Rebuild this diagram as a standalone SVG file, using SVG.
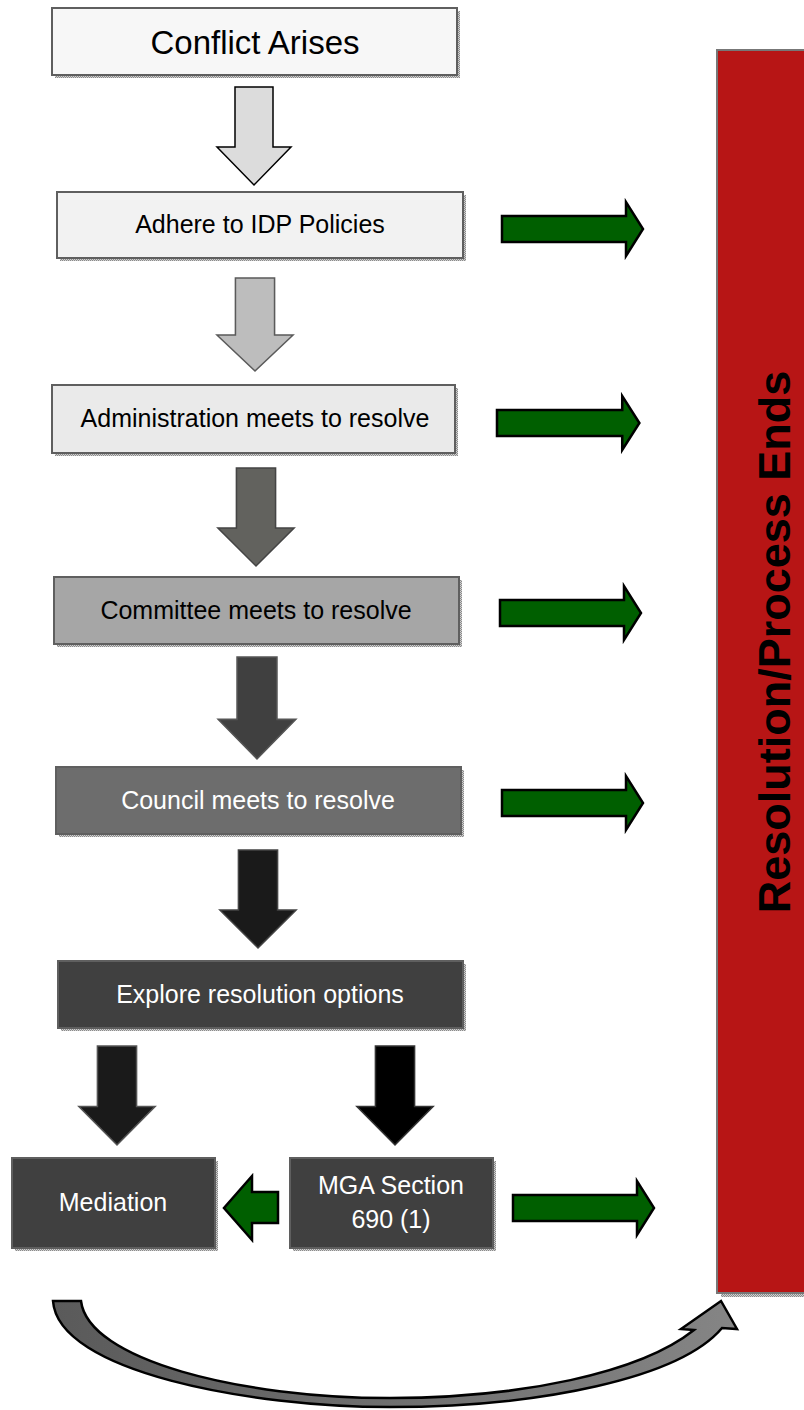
<svg xmlns="http://www.w3.org/2000/svg" width="804" height="1410" viewBox="0 0 804 1410">
<defs>
<pattern id="hatch" width="2" height="2" patternUnits="userSpaceOnUse">
<rect width="2" height="2" fill="#d0d0d0"/>
<rect width="1" height="1" fill="#8a8a8a"/>
<rect x="1" y="1" width="1" height="1" fill="#8a8a8a"/>
</pattern>
<linearGradient id="curveGrad" x1="0" y1="0" x2="1" y2="0">
<stop offset="0" stop-color="#5a5a5a"/>
<stop offset="1" stop-color="#858585"/>
</linearGradient>
<path id="downArrow" d="M-19,0 L19,0 L19,60 L37,60 L0,98 L-37,60 L-19,60 Z"/>
<path id="rightArrow" d="M0,-13 L124,-13 L124,-27 L141,0 L124,27 L124,13 L0,13 Z"/>
</defs>
<style>
.box{stroke:#5f5f5f;stroke-width:2}
.shadow{fill:url(#hatch)}
.t{font-family:"Liberation Sans",Arial,sans-serif;font-size:25px;text-anchor:middle}
.dark{fill:#000}
.light{fill:#fff}
.green{fill:#005f00;stroke:#000;stroke-width:2.5;stroke-linejoin:miter}
</style>
<rect width="804" height="1410" fill="#fff"/>

<g id="resolution">
<rect x="721" y="54" width="90" height="1243" class="shadow"/>
<rect x="717" y="50" width="95" height="1243" fill="#b71515" stroke="#777" stroke-width="2"/>
<text transform="translate(790,642) rotate(-90)" x="0" y="0" font-family="Liberation Sans, Arial, sans-serif" font-size="45" font-weight="bold" text-anchor="middle" fill="#000">Resolution/Process Ends</text>
</g>

<g id="conflict">
<rect x="55" y="11" width="405" height="67" class="shadow"/>
<rect x="52" y="8" width="405" height="67" fill="#f7f7f7" class="box"/>
<text x="255" y="54" class="t dark" font-size="33" style="font-size:33px">Conflict Arises</text>
</g>

<g id="adhere">
<rect x="60" y="195" width="406" height="66" class="shadow"/>
<rect x="57" y="192" width="406" height="66" fill="#f2f2f2" class="box"/>
<text x="260" y="233" class="t dark">Adhere to IDP Policies</text>
</g>

<g id="administration">
<rect x="55" y="388" width="403" height="68" class="shadow"/>
<rect x="52" y="385" width="403" height="68" fill="#eaeaea" class="box"/>
<text x="255" y="427" class="t dark">Administration meets to resolve</text>
</g>

<g id="committee">
<rect x="57" y="580" width="405" height="67" class="shadow"/>
<rect x="54" y="577" width="405" height="67" fill="#a6a6a6" class="box"/>
<text x="256" y="619" class="t dark">Committee meets to resolve</text>
</g>

<g id="council">
<rect x="59" y="770" width="405" height="67" class="shadow"/>
<rect x="56" y="767" width="405" height="67" fill="#6d6d6d" class="box"/>
<text x="258" y="809" class="t light">Council meets to resolve</text>
</g>

<g id="explore">
<rect x="61" y="964" width="405" height="67" class="shadow"/>
<rect x="58" y="961" width="405" height="67" fill="#404040" class="box"/>
<text x="260" y="1003" class="t light">Explore resolution options</text>
</g>

<g id="mediation">
<rect x="15" y="1161" width="203" height="90" class="shadow"/>
<rect x="12" y="1158" width="203" height="90" fill="#404040" class="box"/>
<text x="113" y="1211" class="t light">Mediation</text>
</g>

<g id="mga">
<rect x="293" y="1161" width="203" height="90" class="shadow"/>
<rect x="290" y="1158" width="203" height="90" fill="#404040" class="box"/>
<text x="391" y="1194" class="t light">MGA Section</text>
<text x="391" y="1228" class="t light">690 (1)</text>
</g>

<g id="connectors">
<use href="#downArrow" transform="translate(254,87) scale(1,1)" fill="#dcdcdc" stroke="#000" stroke-width="1.5"/>
<use href="#downArrow" transform="translate(255,278) scale(1.03,0.95)" fill="#bdbdbd" stroke="#5a5a5a" stroke-width="1.5"/>
<use href="#downArrow" transform="translate(256,468) scale(1.03,1)" fill="#62625e" stroke="#444" stroke-width="1.5"/>
<use href="#downArrow" transform="translate(257,657) scale(1.05,1.04)" fill="#404040" stroke="#555" stroke-width="1.5"/>
<use href="#downArrow" transform="translate(258,850) scale(1.03,1)" fill="#1a1a1a" stroke="#444" stroke-width="1.5"/>
<use href="#downArrow" transform="translate(117,1046) scale(1.03,1.01)" fill="#1a1a1a" stroke="#555" stroke-width="1.5"/>
<use href="#downArrow" transform="translate(395,1046) scale(1.03,1.01)" fill="#000" stroke="#333" stroke-width="1.5"/>

<use href="#rightArrow" transform="translate(502,229)" class="green"/>
<use href="#rightArrow" transform="translate(497,423) scale(1.01,1)" class="green"/>
<use href="#rightArrow" transform="translate(500,613)" class="green"/>
<use href="#rightArrow" transform="translate(502,803)" class="green"/>
<use href="#rightArrow" transform="translate(513,1208)" class="green"/>
<path d="M278,1192 L252,1192 L252,1176 L224,1208 L252,1240 L252,1223 L278,1223 Z" class="green"/>

<path d="M53,1301 C58,1372 250,1407 390,1407 C540,1407 680,1378 722,1328 L737,1329 L721,1301 L681,1329 L694,1330 C640,1373 520,1398 390,1398 C240,1398 88,1360 81,1301 Z" fill="url(#curveGrad)" stroke="#000" stroke-width="2.5" stroke-linejoin="miter"/>
</g>
</svg>
